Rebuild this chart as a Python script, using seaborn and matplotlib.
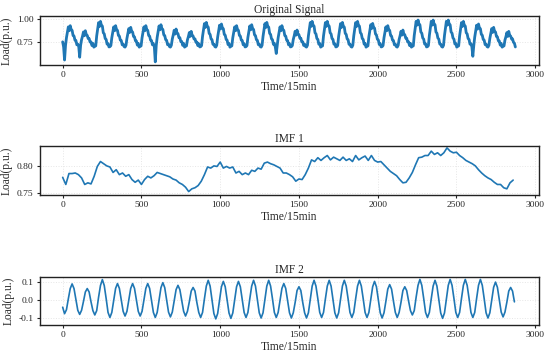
import numpy as np
import pandas as pd
import matplotlib
matplotlib.use('Agg')
import matplotlib.pyplot as plt
import seaborn as sns

# --- data (15-min samples, 30 days) ---
# original load, one row per day, sampled every 6 steps (noise kept as read)
original_load = [
    0.755, 0.700, 0.560, 0.715, 0.799, 0.856, 0.915, 0.874, 0.928, 0.886, 0.878, 0.823, 0.817, 0.773, 0.769, 0.723,
    0.730, 0.704, 0.590, 0.718, 0.778, 0.815, 0.861, 0.820, 0.874, 0.832, 0.824, 0.790, 0.790, 0.752, 0.755, 0.715,
    0.738, 0.698, 0.706, 0.712, 0.818, 0.890, 0.961, 0.920, 0.974, 0.932, 0.924, 0.852, 0.840, 0.790, 0.781, 0.730,
    0.735, 0.700, 0.703, 0.715, 0.799, 0.856, 0.915, 0.874, 0.928, 0.886, 0.878, 0.823, 0.817, 0.773, 0.769, 0.723,
    0.730, 0.704, 0.698, 0.718, 0.792, 0.842, 0.897, 0.856, 0.910, 0.868, 0.860, 0.812, 0.808, 0.766, 0.764, 0.720,
    0.738, 0.698, 0.706, 0.712, 0.799, 0.856, 0.915, 0.874, 0.928, 0.886, 0.878, 0.823, 0.817, 0.773, 0.769, 0.723,
    0.735, 0.700, 0.540, 0.715, 0.803, 0.863, 0.925, 0.884, 0.938, 0.896, 0.888, 0.829, 0.822, 0.777, 0.771, 0.724,
    0.730, 0.704, 0.698, 0.718, 0.785, 0.829, 0.879, 0.838, 0.892, 0.850, 0.842, 0.801, 0.799, 0.759, 0.759, 0.717,
    0.738, 0.698, 0.706, 0.712, 0.775, 0.810, 0.854, 0.813, 0.867, 0.825, 0.817, 0.785, 0.787, 0.750, 0.753, 0.714,
    0.735, 0.700, 0.703, 0.715, 0.813, 0.882, 0.950, 0.909, 0.963, 0.921, 0.913, 0.845, 0.835, 0.786, 0.778, 0.728,
    0.730, 0.704, 0.698, 0.718, 0.806, 0.869, 0.933, 0.892, 0.946, 0.904, 0.896, 0.834, 0.826, 0.780, 0.773, 0.725,
    0.738, 0.698, 0.706, 0.712, 0.799, 0.856, 0.915, 0.874, 0.928, 0.886, 0.878, 0.823, 0.817, 0.773, 0.769, 0.723,
    0.735, 0.700, 0.703, 0.715, 0.803, 0.863, 0.925, 0.884, 0.938, 0.896, 0.888, 0.829, 0.822, 0.777, 0.771, 0.724,
    0.730, 0.704, 0.698, 0.718, 0.813, 0.882, 0.950, 0.909, 0.963, 0.921, 0.913, 0.845, 0.835, 0.786, 0.778, 0.728,
    0.738, 0.698, 0.630, 0.712, 0.799, 0.856, 0.915, 0.874, 0.928, 0.886, 0.878, 0.823, 0.817, 0.773, 0.769, 0.723,
    0.735, 0.700, 0.703, 0.715, 0.780, 0.820, 0.868, 0.827, 0.881, 0.839, 0.831, 0.794, 0.794, 0.755, 0.756, 0.716,
    0.730, 0.704, 0.698, 0.718, 0.818, 0.890, 0.961, 0.920, 0.974, 0.932, 0.924, 0.852, 0.840, 0.790, 0.781, 0.730,
    0.738, 0.698, 0.706, 0.712, 0.818, 0.890, 0.961, 0.920, 0.974, 0.932, 0.924, 0.852, 0.840, 0.790, 0.781, 0.730,
    0.735, 0.700, 0.703, 0.715, 0.813, 0.882, 0.950, 0.909, 0.963, 0.921, 0.913, 0.845, 0.835, 0.786, 0.778, 0.728,
    0.730, 0.704, 0.698, 0.718, 0.818, 0.890, 0.961, 0.920, 0.974, 0.932, 0.924, 0.852, 0.840, 0.790, 0.781, 0.730,
    0.738, 0.698, 0.706, 0.712, 0.809, 0.874, 0.939, 0.898, 0.952, 0.910, 0.902, 0.838, 0.829, 0.782, 0.775, 0.726,
    0.735, 0.700, 0.703, 0.715, 0.799, 0.856, 0.915, 0.874, 0.928, 0.886, 0.878, 0.823, 0.817, 0.773, 0.769, 0.723,
    0.730, 0.704, 0.698, 0.718, 0.780, 0.820, 0.868, 0.827, 0.881, 0.839, 0.831, 0.794, 0.794, 0.755, 0.756, 0.716,
    0.738, 0.698, 0.706, 0.712, 0.823, 0.901, 0.975, 0.934, 0.988, 0.946, 0.938, 0.860, 0.847, 0.796, 0.784, 0.732,
    0.735, 0.700, 0.703, 0.715, 0.823, 0.901, 0.975, 0.934, 0.988, 0.946, 0.938, 0.860, 0.847, 0.796, 0.784, 0.732,
    0.730, 0.704, 0.698, 0.718, 0.823, 0.901, 0.975, 0.934, 0.988, 0.946, 0.938, 0.860, 0.847, 0.796, 0.784, 0.732,
    0.738, 0.698, 0.706, 0.712, 0.818, 0.890, 0.961, 0.920, 0.974, 0.932, 0.924, 0.852, 0.840, 0.790, 0.781, 0.730,
    0.735, 0.700, 0.600, 0.715, 0.806, 0.869, 0.933, 0.892, 0.946, 0.904, 0.896, 0.834, 0.826, 0.780, 0.773, 0.725,
    0.730, 0.704, 0.698, 0.718, 0.792, 0.842, 0.897, 0.856, 0.910, 0.868, 0.860, 0.812, 0.808, 0.766, 0.764, 0.720,
    0.738, 0.698, 0.706, 0.712, 0.775, 0.810, 0.854, 0.813, 0.867, 0.825, 0.817, 0.785, 0.787, 0.750, 0.740, 0.700,
]
original_step = 6

# IMF 1, every 20 steps
imf1 = [
    0.779, 0.766, 0.786, 0.786, 0.787, 0.784, 0.778, 0.766, 0.769, 0.767,
    0.781, 0.799, 0.808, 0.804, 0.800, 0.798, 0.788, 0.793, 0.784, 0.787,
    0.781, 0.784, 0.775, 0.770, 0.774, 0.766, 0.775, 0.781, 0.778, 0.782,
    0.788, 0.786, 0.784, 0.782, 0.780, 0.776, 0.774, 0.769, 0.766, 0.761,
    0.753, 0.758, 0.760, 0.764, 0.772, 0.784, 0.798, 0.796, 0.800, 0.799,
    0.807, 0.796, 0.799, 0.796, 0.798, 0.787, 0.790, 0.784, 0.787, 0.784,
    0.792, 0.790, 0.796, 0.794, 0.805, 0.807, 0.804, 0.802, 0.799, 0.796,
    0.787, 0.787, 0.784, 0.780, 0.772, 0.776, 0.775, 0.784, 0.796, 0.811,
    0.808, 0.815, 0.810, 0.815, 0.819, 0.811, 0.816, 0.813, 0.810, 0.816,
    0.810, 0.813, 0.808, 0.819, 0.811, 0.815, 0.818, 0.810, 0.819, 0.810,
    0.807, 0.808, 0.802, 0.796, 0.790, 0.786, 0.782, 0.775, 0.769, 0.770,
    0.778, 0.788, 0.802, 0.815, 0.816, 0.819, 0.819, 0.827, 0.821, 0.824,
    0.819, 0.824, 0.833, 0.827, 0.824, 0.825, 0.819, 0.815, 0.810, 0.807,
    0.804, 0.800, 0.793, 0.787, 0.782, 0.778, 0.775, 0.770, 0.766, 0.766,
    0.760, 0.758, 0.769, 0.774,
]
imf1_step = 20

# IMF 2, every 12 steps
imf2 = [
    -0.040, -0.076, -0.054, 0.007, 0.064, 0.090, 0.064, 0.005,
    -0.057, -0.080, -0.057, -0.008, 0.045, 0.064, 0.045, -0.010,
    -0.059, -0.083, -0.059, 0.016, 0.081, 0.114, 0.081, 0.009,
    -0.069, -0.097, -0.069, -0.003, 0.065, 0.092, 0.065, 0.002,
    -0.063, -0.089, -0.063, 0.002, 0.065, 0.092, 0.065, 0.002,
    -0.063, -0.089, -0.063, 0.002, 0.065, 0.092, 0.065, -0.003,
    -0.069, -0.097, -0.069, 0.000, 0.069, 0.097, 0.069, 0.002,
    -0.067, -0.094, -0.067, -0.006, 0.058, 0.082, 0.058, -0.004,
    -0.063, -0.089, -0.063, -0.010, 0.050, 0.070, 0.050, -0.014,
    -0.069, -0.097, -0.069, 0.007, 0.078, 0.110, 0.078, 0.003,
    -0.075, -0.105, -0.075, 0.000, 0.074, 0.104, 0.074, 0.001,
    -0.072, -0.102, -0.072, 0.001, 0.074, 0.104, 0.074, 0.004,
    -0.069, -0.097, -0.069, 0.007, 0.078, 0.110, 0.078, 0.005,
    -0.071, -0.100, -0.071, 0.005, 0.078, 0.110, 0.078, 0.007,
    -0.069, -0.097, -0.069, -0.003, 0.065, 0.092, 0.065, -0.004,
    -0.071, -0.100, -0.071, -0.013, 0.053, 0.074, 0.053, -0.013,
    -0.071, -0.100, -0.071, 0.005, 0.078, 0.110, 0.078, 0.007,
    -0.069, -0.097, -0.069, 0.007, 0.078, 0.110, 0.078, 0.005,
    -0.071, -0.100, -0.071, 0.005, 0.078, 0.110, 0.078, 0.007,
    -0.069, -0.097, -0.069, 0.007, 0.078, 0.110, 0.078, 0.007,
    -0.069, -0.097, -0.069, 0.004, 0.074, 0.104, 0.074, 0.002,
    -0.071, -0.100, -0.071, -0.007, 0.061, 0.086, 0.061, -0.006,
    -0.069, -0.097, -0.069, -0.012, 0.053, 0.074, 0.053, -0.005,
    -0.059, -0.083, -0.059, 0.016, 0.082, 0.115, 0.082, 0.009,
    -0.069, -0.097, -0.069, 0.007, 0.078, 0.110, 0.078, 0.004,
    -0.072, -0.102, -0.072, 0.007, 0.082, 0.115, 0.082, 0.009,
    -0.069, -0.097, -0.069, 0.009, 0.082, 0.115, 0.082, 0.009,
    -0.069, -0.097, -0.069, 0.009, 0.082, 0.115, 0.082, 0.008,
    -0.071, -0.100, -0.071, 0.000, 0.071, 0.100, 0.071, 0.003,
    -0.067, -0.094, -0.067, -0.012, 0.050, 0.070, 0.050, -0.010,
]
imf2_step = 12

titles = ['Original Signal', 'IMF 1', 'IMF 2']
x_ticks = [0, 500, 1000, 1500, 2000, 2500, 3000]
y_ticks = [[0.75, 1.00], [0.75, 0.80], [-0.1, 0.0, 0.1]]
y_fmt = ['%.2f', '%.2f', '%.1f']
y_lims = [(0.507, 1.032), (0.7469, 0.8366), (-0.139, 0.129)]

# --- style ---
sns.set_theme(style='whitegrid')
plt.rcParams['font.family'] = ['Liberation Serif', 'DejaVu Serif']
plt.rcParams['axes.edgecolor'] = '#222222'
plt.rcParams['axes.linewidth'] = 1.0
plt.rcParams['grid.color'] = '#e6e6e6'
plt.rcParams['grid.linestyle'] = ':'
plt.rcParams['grid.linewidth'] = 0.7

fig = plt.figure(figsize=(5.5, 3.55), dpi=100)
boxes = [
    [0.0727, 0.817, 0.907, 0.138],
    [0.0727, 0.451, 0.907, 0.138],
    [0.0727, 0.0845, 0.907, 0.1355],
]

series = [
    (np.arange(len(original_load)) * original_step, original_load, 2.0),
    (np.arange(len(imf1)) * imf1_step, imf1, 1.2),
    (np.arange(len(imf2)) * imf2_step, imf2, 1.2),
]

for i, (t, vals, lw) in enumerate(series):
    ax = fig.add_axes(boxes[i])
    df = pd.DataFrame({'t': t, 'v': vals})
    sns.lineplot(data=df, x='t', y='v', ax=ax, color='#1f77b4', linewidth=lw)
    ax.set_xlim(-144, 3023)
    ax.set_ylim(*y_lims[i])
    ax.set_xticks(x_ticks)
    ax.set_yticks(y_ticks[i])
    ax.yaxis.set_major_formatter(matplotlib.ticker.FormatStrFormatter(y_fmt[i]))
    ax.tick_params(axis='both', labelsize=6.8, direction='out', length=2.5,
                   width=0.8, color='#222222', pad=2, bottom=True, left=True)
    ax.set_title(titles[i], fontsize=8.3, pad=2.5)
    ax.set_xlabel('Time/15min', fontsize=8.3, labelpad=1)
    ax.set_ylabel('Load(p.u.)', fontsize=8.3, labelpad=3)
    for s in ax.spines.values():
        s.set_visible(True)
        s.set_color('#222222')

fig.savefig('out.png', dpi=100)
